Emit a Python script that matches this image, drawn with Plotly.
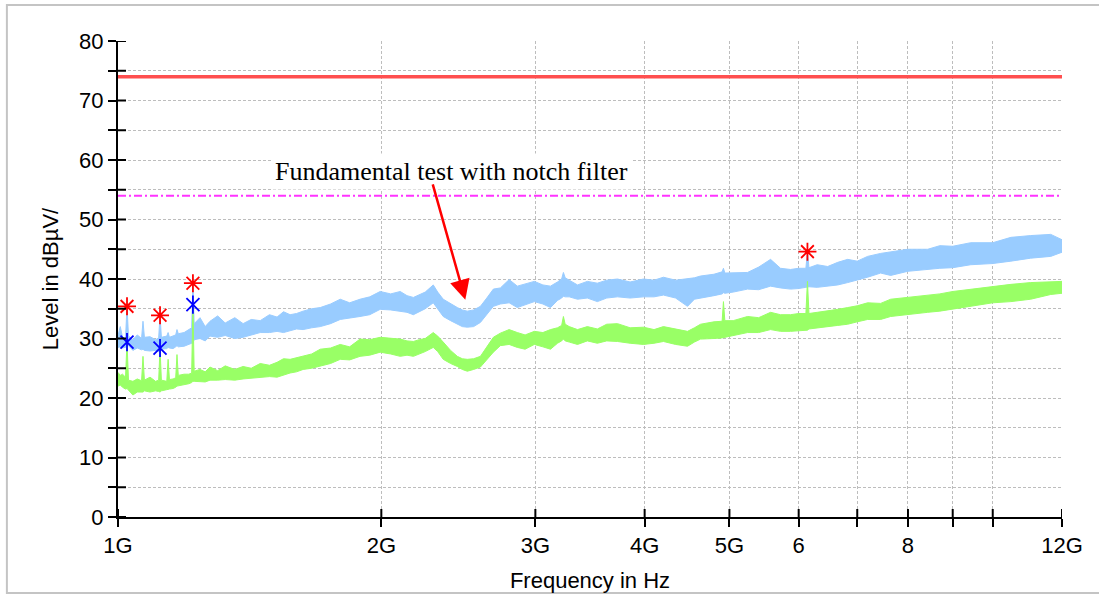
import math
import plotly.graph_objects as go

# ---------------- data ----------------
freq_ghz = [1.000, 1.006, 1.012, 1.020, 1.024, 1.028, 1.040, 1.052, 1.064, 1.068,
            1.072, 1.088, 1.104, 1.113, 1.117, 1.121, 1.137, 1.141, 1.145, 1.156,
            1.164, 1.168, 1.172, 1.190, 1.205, 1.214, 1.218, 1.222, 1.241, 1.258,
            1.274, 1.300, 1.326, 1.360, 1.390, 1.420, 1.454, 1.490, 1.520, 1.546,
            1.573, 1.600, 1.628, 1.665, 1.703, 1.750, 1.795, 1.840, 1.891, 1.940,
            1.994, 2.050, 2.102, 2.140, 2.176, 2.210, 2.245, 2.293, 2.320, 2.354,
            2.400, 2.443, 2.475, 2.508, 2.550, 2.596, 2.640, 2.686, 2.736, 2.800,
            2.861, 2.920, 2.992, 3.060, 3.122, 3.180, 3.215, 3.230, 3.245, 3.280,
            3.352, 3.440, 3.532, 3.620, 3.724, 3.850, 3.988, 4.100, 4.203, 4.340,
            4.478, 4.560, 4.634, 4.800, 4.905, 4.922, 4.940, 5.050, 5.244, 5.400,
            5.572, 5.720, 5.873, 6.000, 6.115, 6.140, 6.165, 6.300, 6.476, 6.650,
            6.826, 7.000, 7.194, 7.445, 7.644, 8.000, 8.428, 8.700, 9.000, 9.437,
            10.00, 10.49, 11.05, 11.65, 12.00]

blue_hi = [30.5, 32.0, 30.2, 30.0, 35.4, 30.4, 29.8, 30.6, 30.0, 32.9,
           30.2, 30.3, 29.8, 30.1, 33.9, 30.2, 30.4, 31.0, 30.2, 30.5,
           30.6, 31.5, 30.8, 31.0, 31.5, 31.8, 39.3, 32.5, 33.5, 32.0,
           32.9, 33.8, 32.6, 33.5, 32.5, 33.2, 33.0, 34.0, 33.6, 34.5,
           34.0, 34.2, 34.6, 35.0, 35.2, 35.8, 36.6, 36.0, 36.6, 37.0,
           37.9, 37.5, 37.9, 37.2, 36.9, 37.4, 37.8, 39.0, 37.8, 36.6,
           35.8, 35.2, 34.8, 34.6, 34.8, 35.4, 36.8, 38.3, 38.5, 39.9,
           38.8, 39.2, 39.6, 39.0, 38.8, 39.5, 40.0, 41.1, 40.2, 39.8,
           39.0, 39.6, 39.3, 39.8, 40.0, 39.5, 40.0, 39.8, 40.3, 39.8,
           40.0, 40.2, 40.5, 40.8, 41.2, 41.8, 41.0, 41.0, 41.1, 42.0,
           43.3, 41.8, 41.6, 41.8, 41.8, 44.6, 41.9, 42.4, 42.1, 42.8,
           43.3, 43.0, 43.8, 44.3, 44.6, 45.0, 45.0, 45.6, 45.5, 46.1,
           46.1, 47.0, 47.3, 47.5, 46.6]

blue_lo = [28.5, 28.6, 28.4, 28.5, 28.6, 28.8, 28.0, 28.4, 28.1, 28.2,
           28.0, 27.9, 28.0, 27.8, 27.9, 28.2, 28.3, 28.5, 28.4, 28.3,
           28.6, 28.8, 28.6, 28.7, 29.0, 29.2, 29.2, 29.8, 30.0, 29.6,
           30.4, 30.2, 30.5, 30.0, 30.2, 30.6, 31.0, 31.0, 31.2, 31.0,
           31.3, 31.6, 31.5, 31.8, 32.0, 32.5, 33.2, 33.4, 33.7, 34.0,
           34.9, 34.8, 34.6, 34.4, 34.0, 34.5, 35.0, 36.0, 35.0, 33.7,
           33.0, 32.4, 32.0, 31.9, 32.0, 32.7, 34.0, 35.4, 35.8, 36.0,
           35.2, 35.6, 36.2, 35.8, 35.2, 36.4, 36.8, 37.1, 37.0, 37.0,
           36.6, 36.8, 36.2, 36.8, 37.0, 36.8, 37.0, 37.0, 37.3, 36.8,
           35.4, 36.6, 36.8, 37.2, 37.5, 37.7, 37.6, 37.8, 38.3, 38.2,
           38.8, 38.5, 38.3, 38.4, 38.6, 38.6, 38.7, 38.6, 38.8, 39.0,
           39.4, 39.8, 40.3, 41.0, 40.6, 41.3, 41.6, 41.8, 41.9, 42.4,
           42.6, 43.0, 43.5, 43.8, 44.5]

green_hi = [24.3, 23.8, 24.0, 23.5, 29.4, 23.0, 22.8, 23.2, 22.9, 27.0,
            23.0, 23.5, 22.8, 23.0, 28.4, 23.0, 22.8, 26.5, 23.1, 23.2,
            23.4, 27.3, 23.8, 24.0, 24.0, 24.2, 35.7, 24.5, 24.8, 24.4,
            25.2, 24.6, 25.4, 24.8, 25.3, 25.0, 25.8, 25.5, 26.0, 26.6,
            26.5, 26.8, 27.0, 27.4, 28.2, 28.4, 29.0, 28.6, 29.9, 29.8,
            30.2, 30.0, 29.9, 29.6, 29.5, 29.8, 30.0, 31.0, 30.4, 29.4,
            28.0, 27.0, 26.6, 26.5, 26.6, 27.0, 28.5, 30.2, 30.9, 31.5,
            31.0, 30.6, 31.2, 31.0, 31.5, 31.8, 32.2, 33.7, 32.4, 32.0,
            31.5, 32.0, 31.6, 32.4, 32.5, 31.8, 31.9, 31.5, 32.0, 31.6,
            31.2, 31.8, 32.4, 32.8, 32.9, 36.2, 33.0, 33.0, 33.7, 33.5,
            34.4, 34.0, 34.0, 34.2, 34.2, 39.6, 34.2, 34.4, 34.6, 34.9,
            35.2, 35.5, 36.0, 35.9, 36.6, 36.9, 37.2, 37.5, 37.9, 38.3,
            38.8, 39.1, 39.4, 39.6, 39.6]

green_lo = [22.0, 22.2, 21.8, 21.5, 21.6, 21.2, 20.5, 21.0, 21.0, 21.0,
            21.2, 21.0, 21.2, 21.1, 21.0, 21.2, 21.4, 21.5, 21.5, 21.6,
            21.8, 22.0, 22.0, 22.2, 22.4, 22.6, 22.8, 22.8, 22.8, 22.7,
            23.0, 23.0, 23.1, 23.0, 23.2, 23.3, 23.5, 23.6, 23.5, 23.8,
            24.2, 24.4, 24.8, 25.0, 25.3, 25.8, 26.5, 26.4, 27.0, 27.2,
            27.7, 27.4, 27.0, 27.2, 27.0, 27.4, 27.8, 28.5, 27.8, 26.5,
            25.8, 25.3, 24.8, 24.5, 24.8, 25.2, 26.5, 27.7, 28.8, 29.0,
            28.5, 28.2, 29.0, 28.6, 28.2, 29.2, 29.6, 29.9, 29.6, 29.4,
            29.0, 29.6, 29.2, 29.6, 29.5, 29.2, 29.0, 29.2, 29.5, 29.0,
            28.7, 29.4, 29.9, 30.0, 30.1, 30.2, 30.2, 30.5, 31.0, 31.0,
            31.5, 31.2, 31.2, 31.3, 31.4, 31.4, 31.6, 31.8, 32.0, 32.2,
            32.4, 32.8, 33.2, 33.2, 33.7, 34.0, 34.4, 34.6, 34.9, 35.4,
            36.0, 36.2, 36.6, 37.4, 37.6]

# final peaks (red = peak of blue trace, blue = peak of green trace)
peak_red_f = [1.024, 1.117, 1.218, 6.14]
peak_red_v = [35.4, 33.9, 39.3, 44.6]
peak_blue_f = [1.024, 1.117, 1.218]
peak_blue_v = [29.4, 28.4, 35.7]

limit_peak = 74
limit_avg = 54

x_tickvals = [1, 2, 3, 4, 5, 6, 7, 8, 9, 10, 12]
x_ticktext = ["1G", "2G", "3G", "4G", "5G", "6", "", "8", "", "", "12G"]
y_tickvals = list(range(0, 81, 5))
y_ticktext = [str(v) if v % 10 == 0 else "" for v in y_tickvals]

note_text = "Fundamental test with notch filter"
note_f, note_v = 2.404, 58.0
arrow_f, arrow_v = 2.495, 36.5

# ---------------- figure ----------------
BLUE = "#99ccff"
GREEN = "#99ff66"
fig = go.Figure()


def band(hi, lo, color):
    return go.Scatter(
        x=freq_ghz + freq_ghz[::-1],
        y=hi + lo[::-1],
        mode="lines",
        fill="toself",
        fillcolor=color,
        line=dict(color=color, width=1),
        hoverinfo="skip",
        showlegend=False,
    )


fig.add_trace(band(blue_hi, blue_lo, BLUE))
fig.add_trace(band(green_hi, green_lo, GREEN))

fig.add_trace(go.Scatter(x=[1, 12], y=[limit_peak, limit_peak], mode="lines",
                         line=dict(color="#ff4f4f", width=3.5), showlegend=False))
fig.add_trace(go.Scatter(x=[1, 12], y=[limit_avg, limit_avg], mode="lines",
                         line=dict(color="#ff33ff", width=2, dash="8px,3px,2px,3px"),
                         showlegend=False))

fig.add_trace(go.Scatter(x=peak_red_f, y=peak_red_v, mode="markers",
                         marker=dict(symbol="asterisk-open", size=15, color="#ff0000",
                                     line=dict(color="#ff0000", width=1.8)),
                         showlegend=False))
fig.add_trace(go.Scatter(x=peak_blue_f, y=peak_blue_v, mode="markers",
                         marker=dict(symbol="x-thin-open", size=13, color="#0000ff",
                                     line=dict(color="#0000ff", width=1.8)),
                         showlegend=False))
fig.add_trace(go.Scatter(x=peak_blue_f, y=peak_blue_v, mode="markers",
                         marker=dict(symbol="line-ns-open", size=13, color="#0000ff",
                                     line=dict(color="#0000ff", width=1.8)),
                         showlegend=False))

shapes = []
for v in y_tickvals:
    shapes.append(dict(type="line", xref="paper", xsizemode="pixel", xanchor=0,
                       x0=0, x1=8, yref="y", y0=v, y1=v,
                       line=dict(color="black", width=2)))
for f in x_tickvals:
    shapes.append(dict(type="line", yref="y", ysizemode="pixel", yanchor=0,
                       y0=0, y1=8, xref="x", x0=f, x1=f,
                       line=dict(color="black", width=2)))
shapes.append(dict(type="rect", xref="paper", yref="paper",
                   x0=-0.1177, x1=1.06, y0=-0.1597, y1=1.0756,
                   line=dict(color="#c4c4c4", width=2), layer="below"))

font_sans = "Liberation Sans, Arial, sans-serif"
axis_common = dict(
    showgrid=True, gridcolor="#bdbdbd", gridwidth=1, griddash="3px,2px",
    showline=True, linecolor="black", linewidth=2,
    ticks="outside", ticklen=8, tickwidth=2, tickcolor="black",
    tickfont=dict(family=font_sans, size=22, color="black"),
    zeroline=False, fixedrange=True, automargin=False,
)

fig.update_layout(
    width=1099, height=597,
    margin=dict(l=118, r=37, t=41, b=80),
    paper_bgcolor="white", plot_bgcolor="white",
    showlegend=False,
    shapes=shapes,
    xaxis=dict(type="log", range=[0, math.log10(12)],
               tickmode="array", tickvals=x_tickvals, ticktext=x_ticktext,
               title=dict(text="Frequency in Hz", standoff=15,
                          font=dict(family=font_sans, size=22, color="black")),
               **axis_common),
    yaxis=dict(range=[0, 80], tickmode="array", tickvals=y_tickvals,
               ticktext=y_ticktext,
               title=dict(text="Level in dBµV/", standoff=14,
                          font=dict(family=font_sans, size=22, color="black")),
               **axis_common),
    annotations=[
        dict(x=math.log10(note_f), y=note_v, xref="x", yref="y", text=note_text,
             showarrow=False, bgcolor="white", borderpad=3,
             font=dict(family="Liberation Serif, Times New Roman, serif", size=26,
                       color="black")),
        dict(x=math.log10(arrow_f), y=arrow_v, xref="x", yref="y", text="",
             showarrow=True, ax=-33, ay=-117, axref="pixel", ayref="pixel",
             arrowcolor="#ff0000", arrowwidth=2.5, arrowhead=2, arrowsize=1.6),
    ],
)

fig.write_html("out.html")
